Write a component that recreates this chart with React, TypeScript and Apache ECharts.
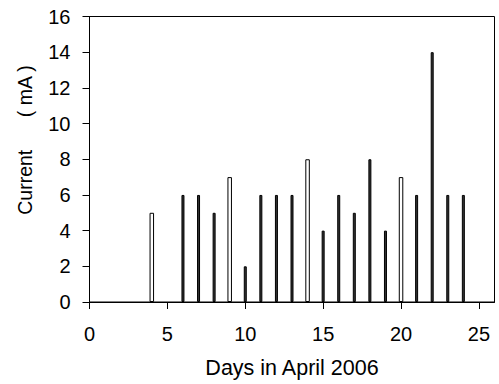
import React, { useEffect, useRef } from "react";
import * as echarts from "echarts";

const filledDays = [6, 7, 8, 10, 11, 12, 13, 15, 16, 17, 18, 19, 21, 22, 23, 24];
const filledCurrents = [6, 6, 5, 2, 6, 6, 6, 4, 6, 5, 8, 4, 6, 14, 6, 6];
const hollowDays = [4, 9, 14, 20];
const hollowCurrents = [5, 7, 8, 7];
const xTicks = [0, 5, 10, 15, 20, 25];
const yTicks = [0, 2, 4, 6, 8, 10, 12, 14, 16];

const FONT = "'Liberation Sans', Arial, sans-serif";

export default function App() {
  const ref = useRef<HTMLDivElement>(null);
  useEffect(() => {
    if (!ref.current) return;
    const chart = echarts.init(ref.current, null, { renderer: "svg" });
    chart.setOption({
      animation: false,
      backgroundColor: "#ffffff",
      grid: {
        left: 89.5,
        right: 4.5,
        top: 16.5,
        bottom: 80,
        show: true,
        borderColor: "#000",
        borderWidth: 1,
        backgroundColor: "transparent",
      },
      xAxis: [
        {
          type: "value",
          min: 0,
          max: 26,
          interval: 5,
          name: "Days in April 2006",
          nameLocation: "middle",
          nameGap: 55,
          nameTextStyle: { color: "#000", fontSize: 21.5, fontFamily: FONT },
          axisLine: { show: true, lineStyle: { color: "#000", width: 1 } },
          axisTick: { show: true, length: 7, inside: false, customValues: xTicks, lineStyle: { color: "#000" } },
          axisLabel: { color: "#000", fontSize: 20, fontFamily: FONT, margin: 22, customValues: xTicks },
          splitLine: { show: false },
        },
        {
          type: "value",
          min: 0,
          max: 26,
          interval: 5,
          position: "bottom",
          show: false,
          splitLine: { show: false },
        },
      ],
      yAxis: {
        type: "value",
        min: 0,
        max: 16,
        interval: 2,
        axisLine: { show: true, lineStyle: { color: "#000", width: 1 } },
        axisTick: { show: true, length: 7, inside: false, customValues: yTicks, lineStyle: { color: "#000" } },
        axisLabel: { color: "#000", fontSize: 20, fontFamily: FONT, margin: 19, customValues: yTicks },
        splitLine: { show: false },
      },
      graphic: [
        {
          type: "text",
          x: 25,
          y: 140,
          rotation: Math.PI / 2,
          style: {
            text: "Current      ( mA )",
            fill: "#000",
            font: `19.5px ${FONT}`,
            align: "center",
            verticalAlign: "middle",
          },
        },
      ],
      series: [
        {
          type: "bar",
          xAxisIndex: 0,
          barWidth: 3,
          data: filledDays.map((d, i) => [d, filledCurrents[i]]),
          itemStyle: { color: "#333333", borderColor: "#000", borderWidth: 1 },
        },
        {
          type: "bar",
          xAxisIndex: 1,
          barWidth: 4.5,
          data: hollowDays.map((d, i) => [d, hollowCurrents[i]]),
          itemStyle: { color: "#ffffff", borderColor: "#000", borderWidth: 1 },
        },
      ],
    });
    return () => chart.dispose();
  }, []);
  return (
    <div
      ref={ref}
      style={{ position: "fixed", left: 0, top: 0, width: 499, height: 384, background: "#fff" }}
    />
  );
}
